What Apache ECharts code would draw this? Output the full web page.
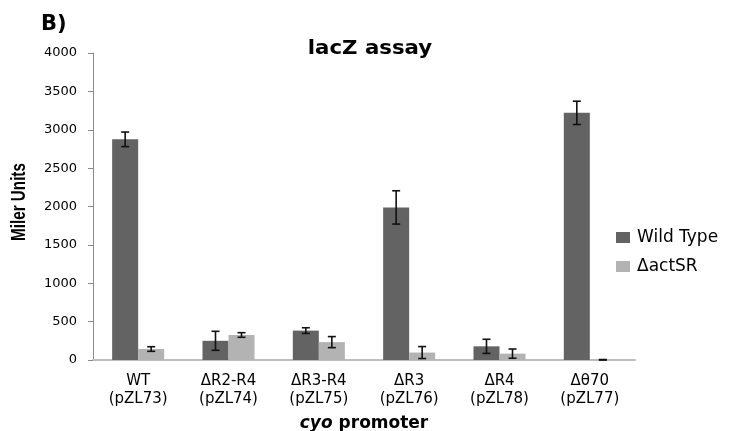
<!DOCTYPE html>
<html>
<head>
<meta charset="utf-8">
<script src="https://cdn.jsdelivr.net/npm/echarts@6/dist/echarts.min.js"></script>
<style>
  html, body { margin: 0; padding: 0; background: #fff; }
  #chart { width: 735px; height: 431px; }
</style>
</head>
<body>
<div id="chart"></div>
<script>
// Promoter constructs on the x axis
const categories = ['WT\n(pZL73)', 'ΔR2-R4\n(pZL74)', 'ΔR3-R4\n(pZL75)', 'ΔR3\n(pZL76)', 'ΔR4\n(pZL78)', 'Δθ70\n(pZL77)'];
const seriesNames = ['Wild Type', 'ΔactSR'];

// β-galactosidase activity (Miller units) and standard deviations
const wildType = [2875, 250, 383, 1988, 178, 3220];
const wildTypeErr = [95, 124, 37, 217, 92, 152];
const actSR = [143, 326, 233, 97, 83, 3];
const actSRErr = [30, 30, 72, 78, 60, 3];

const yTicks = { min: 0, max: 4000, interval: 500 };

const colors = ['#636363', '#b3b3b3'];
const BAR_FRACTION = 0.288;

const chart = echarts.init(document.getElementById('chart'));

function errorSeries(idx, values, errs) {
  return {
    type: 'custom',
    name: seriesNames[idx] + ' error',
    z: 10,
    silent: true,
    data: values.map((v, i) => [i, v, errs[i]]),
    encode: { x: 0, y: 1 },
    renderItem: function (params, api) {
      const i = api.value(0);
      const v = api.value(1);
      const e = api.value(2);
      const band = api.size([1, 0])[0];
      const off = (idx === 0 ? -1 : 1) * band * BAR_FRACTION / 2;
      const hi = api.coord([i, v + e]);
      const lo = api.coord([i, Math.max(v - e, 0)]);
      const x = hi[0] + off;
      const cap = 4;
      const style = { stroke: '#111', lineWidth: 1.6 };
      return {
        type: 'group',
        children: [
          { type: 'line', shape: { x1: x, y1: hi[1], x2: x, y2: lo[1] }, style: style },
          { type: 'line', shape: { x1: x - cap, y1: hi[1], x2: x + cap, y2: hi[1] }, style: style },
          { type: 'line', shape: { x1: x - cap, y1: lo[1], x2: x + cap, y2: lo[1] }, style: style }
        ]
      };
    }
  };
}

const option = {
  animation: false,
  backgroundColor: '#ffffff',
  textStyle: { fontFamily: 'DejaVu Sans' },
  graphic: [
    {
      type: 'text',
      x: 370,
      y: 49,
      scaleX: 1.12,
      style: {
        text: 'lacZ assay',
        font: 'bold 19px "DejaVu Sans"',
        fill: '#000',
        align: 'center',
        verticalAlign: 'middle'
      }
    },
    {
      type: 'text',
      x: 41,
      y: 25,
      style: { text: 'B)', font: 'bold 21px "DejaVu Sans"', fill: '#000', verticalAlign: 'middle' }
    },
    {
      type: 'text',
      x: 20,
      y: 202,
      rotation: Math.PI / 2,
      scaleX: 0.78,
      style: {
        text: 'Miler Units',
        font: 'bold 19.5px "Liberation Sans", sans-serif',
        fill: '#000',
        align: 'center',
        verticalAlign: 'middle'
      }
    }
  ],
  legend: {
    orient: 'vertical',
    left: 611,
    top: 224,
    itemWidth: 14,
    itemHeight: 11,
    itemGap: 12,
    icon: 'rect',
    data: seriesNames,
    textStyle: { fontFamily: 'DejaVu Sans', fontSize: 17, color: '#000', padding: [0, 0, 0, 2] }
  },
  grid: { left: 93, right: 100, top: 53, bottom: 71, containLabel: false, outerBoundsMode: 'none' },
  xAxis: {
    type: 'category',
    data: categories,
    axisLine: { lineStyle: { color: '#bdbdbd', width: 2 } },
    axisTick: { show: false },
    axisLabel: {
      color: '#000',
      fontFamily: 'DejaVu Sans',
      fontSize: 15,
      lineHeight: 18,
      margin: 12
    },
    name: '{i|cyo}{b|promoter}',
    nameLocation: 'middle',
    nameGap: 55,
    nameTextStyle: {
      rich: {
        i: { fontFamily: 'DejaVu Sans', fontWeight: 'bold', fontStyle: 'italic', fontSize: 17, color: '#000', padding: [0, 6, 0, 0] },
        b: { fontFamily: 'DejaVu Sans', fontWeight: 'bold', fontSize: 17, color: '#000' }
      }
    }
  },
  yAxis: {
    type: 'value',
    min: yTicks.min,
    max: yTicks.max,
    interval: yTicks.interval,
    splitLine: { show: false },
    axisLine: { show: true, lineStyle: { color: '#8a8a8a', width: 1 } },
    axisTick: { show: true, length: 5, lineStyle: { color: '#8a8a8a' } },
    axisLabel: {
      color: '#000',
      fontFamily: 'DejaVu Sans',
      fontSize: 13,
      margin: 16,
      formatter: (v) => String(v)
    }
  },
  series: [
    {
      name: seriesNames[0],
      type: 'bar',
      data: wildType,
      barWidth: (BAR_FRACTION * 100) + '%',
      barGap: '0%',
      itemStyle: { color: colors[0] }
    },
    {
      name: seriesNames[1],
      type: 'bar',
      data: actSR,
      barWidth: (BAR_FRACTION * 100) + '%',
      barGap: '0%',
      itemStyle: { color: colors[1] }
    },
    errorSeries(0, wildType, wildTypeErr),
    errorSeries(1, actSR, actSRErr)
  ]
};

chart.setOption(option);
</script>
</body>
</html>
